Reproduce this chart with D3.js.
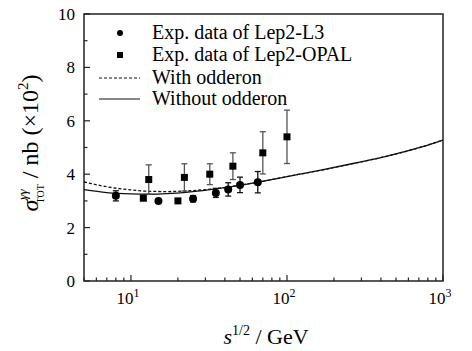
<!DOCTYPE html>
<html>
<head>
<meta charset="utf-8">
<script src="https://cdn.jsdelivr.net/npm/d3@7"></script>
<style>
  body { margin: 0; background: #fff; }
  svg text { font-family: "Liberation Serif", "Times New Roman", serif; fill: #000; }
</style>
</head>
<body>
<svg id="chart" width="472" height="351"></svg>
<script>
// data (sqrt(s) in GeV, sigma in 10^2 nb)
const l3X = [8, 15, 25, 35, 42, 50, 65]
const l3Y = [3.19, 3.0, 3.08, 3.30, 3.43, 3.60, 3.70]
const l3Err = [0.19, 0, 0.12, 0.17, 0.25, 0.29, 0.40]

const opalX = [12, 13, 20, 22, 32, 45, 70, 100]
const opalY = [3.10, 3.80, 3.0, 3.88, 4.0, 4.30, 4.80, 5.40]
const opalErr = [0.08, 0.55, 0, 0.51, 0.39, 0.50, 0.79, 1.0]

const curveX = [5, 7, 10, 13, 17, 24, 35, 50, 65, 100, 165, 270, 440, 720, 1000]
const withoutOdd = [3.42, 3.31, 3.26, 3.25, 3.27, 3.34, 3.45, 3.58, 3.70, 3.91, 4.15, 4.41, 4.68, 5.01, 5.28]
const withOdd = [3.71, 3.53, 3.41, 3.36, 3.35, 3.38, 3.46, 3.59, 3.70, 3.91, 4.15, 4.41, 4.68, 5.01, 5.28]

const legendLabels = ['Exp. data of Lep2-L3', 'Exp. data of Lep2-OPAL', 'With odderon', 'Without odderon']

const yTicks = [0, 2, 4, 6, 8, 10]
const xTicks = [10, 100, 1000]

const padL = 84, padR = 443, padT = 14, padB = 281

const svg = d3.select('#chart')

const x = d3.scaleLog().domain([5, 1000]).range([padL, padR])
const y = d3.scaleLinear().domain([0, 10]).range([padB, padT])

// frame
svg.append('rect').attr('x', padL).attr('y', padT).attr('width', padR - padL).attr('height', padB - padT)
    .style('fill', 'none').style('stroke', '#222').style('stroke-width', 1.5)

// y ticks (inward)
const yMinor = d3.range(1, 10, 2)
svg.selectAll('.ymaj').data(yTicks).enter().append('line')
    .attr('x1', padL).attr('x2', padL + 6).attr('y1', d => y(d)).attr('y2', d => y(d))
    .style('stroke', '#222').style('stroke-width', 1.2)
svg.selectAll('.ymin').data(yMinor).enter().append('line')
    .attr('x1', padL).attr('x2', padL + 3.5).attr('y1', d => y(d)).attr('y2', d => y(d))
    .style('stroke', '#222').style('stroke-width', 1.2)
svg.selectAll('.ylab').data(yTicks).enter().append('text')
    .attr('x', padL - 9).attr('y', d => y(d) + 6).attr('text-anchor', 'end')
    .style('font-size', '17px').text(d => d)

// x ticks (inward)
const xMinor = x.ticks().filter(d => xTicks.indexOf(d) < 0)
svg.selectAll('.xmaj').data(xTicks).enter().append('line')
    .attr('x1', d => x(d)).attr('x2', d => x(d)).attr('y1', padB).attr('y2', padB - 6)
    .style('stroke', '#222').style('stroke-width', 1.2)
svg.selectAll('.xmin').data(xMinor).enter().append('line')
    .attr('x1', d => x(d)).attr('x2', d => x(d)).attr('y1', padB).attr('y2', padB - 3.5)
    .style('stroke', '#222').style('stroke-width', 1.2)
const xl = svg.selectAll('.xlab').data(xTicks).enter().append('text')
    .attr('x', d => x(d) - 3).attr('y', 304).attr('text-anchor', 'middle')
    .style('font-size', '17px')
xl.append('tspan').text('10')
xl.append('tspan').attr('dy', -7).style('font-size', '12px').text(d => Math.round(Math.log10(d)))

// axis titles
const xt = svg.append('text').attr('x', 266).attr('y', 344).attr('text-anchor', 'middle').style('font-size', '22px')
xt.append('tspan').style('font-style', 'italic').text('s')
xt.append('tspan').attr('dy', -9).style('font-size', '14px').text('1/2')
xt.append('tspan').attr('dy', 9).text(' / GeV')

const yt = svg.append('text').attr('transform', 'translate(38,143) rotate(-90)')
    .attr('text-anchor', 'middle').style('font-size', '24px')
yt.append('tspan').style('font-style', 'italic').text('σ')
yt.append('tspan').attr('dy', -11).style('font-size', '13px').style('font-style', 'italic').text('γγ')
yt.append('tspan').attr('dx', -14).attr('dy', 17).style('font-size', '10px').text('TOT')
yt.append('tspan').attr('dy', -6).text(' / nb (×10')
yt.append('tspan').attr('dy', -10).style('font-size', '15px').text('2')
yt.append('tspan').attr('dy', 10).text(')')

// curves
const line = d3.line().x(d => x(d[0])).y(d => y(d[1])).curve(d3.curveMonotoneX)
svg.append('path').datum(d3.zip(curveX, withOdd)).attr('d', line)
    .style('fill', 'none').style('stroke', '#111').style('stroke-width', 1.3).style('stroke-dasharray', '3,2')
svg.append('path').datum(d3.zip(curveX, withoutOdd)).attr('d', line)
    .style('fill', 'none').style('stroke', '#111').style('stroke-width', 1.3)

// error bars
function errorBars(xs, ys, es, color) {
    const d = d3.range(xs.length).filter(i => es[i] > 0).map(i => [xs[i], ys[i], es[i]])
    const g = svg.append('g').style('stroke', color).style('stroke-width', 1.3)
    g.selectAll('.eb').data(d).enter().append('line')
        .attr('x1', p => x(p[0])).attr('x2', p => x(p[0])).attr('y1', p => y(p[1] - p[2])).attr('y2', p => y(p[1] + p[2]))
    g.selectAll('.ct').data(d).enter().append('line')
        .attr('x1', p => x(p[0]) - 3).attr('x2', p => x(p[0]) + 3).attr('y1', p => y(p[1] + p[2])).attr('y2', p => y(p[1] + p[2]))
    g.selectAll('.cb').data(d).enter().append('line')
        .attr('x1', p => x(p[0]) - 3).attr('x2', p => x(p[0]) + 3).attr('y1', p => y(p[1] - p[2])).attr('y2', p => y(p[1] - p[2]))
}
errorBars(opalX, opalY, opalErr, '#555')
errorBars(l3X, l3Y, l3Err, '#111')

svg.selectAll('.sq').data(d3.zip(opalX, opalY)).enter().append('rect')
    .attr('x', p => x(p[0]) - 3.5).attr('y', p => y(p[1]) - 3.5).attr('width', 7).attr('height', 7).style('fill', '#000')
svg.selectAll('.dot').data(d3.zip(l3X, l3Y)).enter().append('circle')
    .attr('cx', p => x(p[0])).attr('cy', p => y(p[1])).attr('r', 4).style('fill', '#000')

// legend
const lg = svg.append('g')
const ly = [33, 55, 78, 99]
lg.append('circle').attr('cx', 120).attr('cy', ly[0]).attr('r', 3).style('fill', '#000')
lg.append('rect').attr('x', 117).attr('y', ly[1] - 3).attr('width', 6).attr('height', 6).style('fill', '#000')
lg.append('line').attr('x1', 99).attr('x2', 140).attr('y1', ly[2]).attr('y2', ly[2])
    .style('stroke', '#111').style('stroke-width', 1).style('stroke-dasharray', '3,2')
lg.append('line').attr('x1', 99).attr('x2', 140).attr('y1', ly[3]).attr('y2', ly[3])
    .style('stroke', '#111').style('stroke-width', 1)
lg.selectAll('.lt').data(legendLabels).enter().append('text')
    .attr('x', 152).attr('y', (d, i) => ly[i] + 6).style('font-size', '20px').text(d => d)
</script>
</body>
</html>
